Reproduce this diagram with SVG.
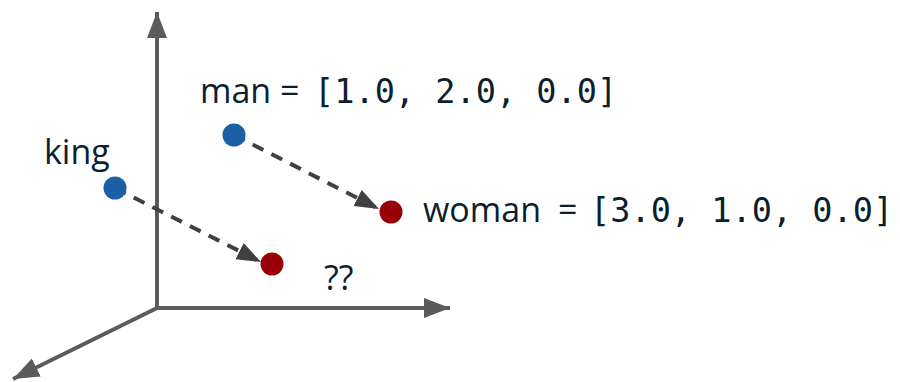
<svg xmlns="http://www.w3.org/2000/svg" width="900" height="382" viewBox="0 0 900 382">
<style>
.axis{stroke:#5b5b5b;stroke-width:4;fill:none}
.dash{stroke:#404040;stroke-width:4;stroke-dasharray:12 9;fill:none}
.lbl{font-family:"Open Sans","Liberation Sans",sans-serif;font-size:34px;font-weight:500;fill:#0b1f2f}
.mono{font-family:"DejaVu Sans Mono","Liberation Mono",monospace;font-size:33.6px;font-weight:400}
.blue{fill:#1b5fa5}
.red{fill:#970009}
</style>
<defs>
<marker id="ax" markerUnits="userSpaceOnUse" markerWidth="30" markerHeight="24" refX="26" refY="10" orient="auto">
<path d="M0,0 L26,10 L0,20 Z" fill="#5b5b5b"/>
</marker>
<marker id="dh" markerUnits="userSpaceOnUse" markerWidth="30" markerHeight="24" refX="24" refY="9" orient="auto">
<path d="M0,0 L24,9 L0,18 Z" fill="#404040"/>
</marker>
</defs>
<g id="axes">
<line class="axis" x1="157" y1="308" x2="157" y2="12" marker-end="url(#ax)"/>
<line class="axis" x1="157" y1="308" x2="450" y2="308" marker-end="url(#ax)"/>
<line class="axis" x1="157" y1="308" x2="13" y2="379" marker-end="url(#ax)"/>
</g>
<g id="connectors">
<line class="dash" x1="234" y1="135" x2="379" y2="209" marker-end="url(#dh)"/>
<line class="dash" x1="115" y1="188" x2="261" y2="262" marker-end="url(#dh)"/>
</g>
<g id="man">
<circle class="blue" cx="234" cy="135" r="11.5"/>
<text class="lbl" x="200" y="103">man<tspan x="280">=</tspan><tspan class="mono" x="314">[1.0, 2.0, 0.0]</tspan></text>
</g>
<g id="king">
<circle class="blue" cx="115" cy="188" r="11.5"/>
<text class="lbl" x="44" y="164">king</text>
</g>
<g id="woman">
<circle class="red" cx="391" cy="212" r="11.5"/>
<text class="lbl" x="423" y="222">woman<tspan x="558">=</tspan><tspan class="mono" x="590">[3.0, 1.0, 0.0]</tspan></text>
</g>
<g id="unknown">
<circle class="red" cx="272" cy="264" r="11.5"/>
<text class="lbl" x="324" y="290">??</text>
</g>
</svg>
